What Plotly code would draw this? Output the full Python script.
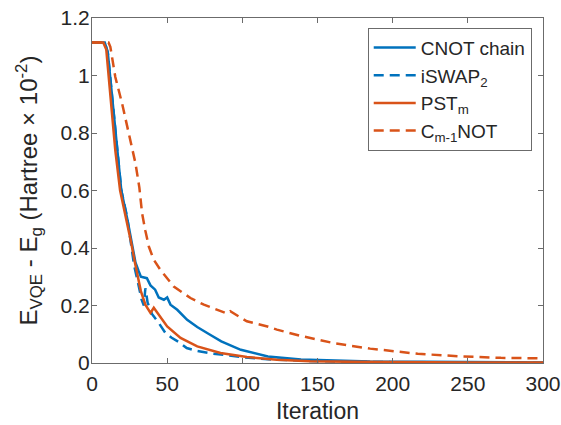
import plotly.graph_objects as go

# CNOT chain (blue solid)
cnot_x = [0, 8.5, 10.5, 12, 15, 16.5, 19.5, 23.5, 26.5, 28.9, 31, 32.5, 36.5, 38.9, 42, 44.4, 47.8, 50, 52.2, 56.7, 63.3, 70, 78, 86, 99, 117, 139, 161, 185, 220, 260, 300]
cnot_y = [1.115, 1.115, 1.08, 1.0, 0.82, 0.75, 0.6, 0.5, 0.42, 0.35, 0.32, 0.3, 0.295, 0.27, 0.255, 0.228, 0.22, 0.228, 0.203, 0.185, 0.15, 0.125, 0.1, 0.075, 0.046, 0.023, 0.012, 0.008, 0.005, 0.004, 0.003, 0.002]

# iSWAP_2 (blue dashed)
iswap_x = [0, 8.5, 10.5, 12, 15.5, 17.5, 19.5, 23.3, 25.5, 28, 31, 33, 34.5, 35.5, 37, 40, 44.4, 48.9, 53, 58, 63, 70, 80, 90, 100, 120, 150, 200, 300]
iswap_y = [1.115, 1.115, 1.08, 1.0, 0.8, 0.7, 0.6, 0.51, 0.43, 0.34, 0.27, 0.22, 0.2, 0.26, 0.21, 0.17, 0.139, 0.104, 0.088, 0.072, 0.052, 0.042, 0.033, 0.027, 0.02, 0.012, 0.006, 0.003, 0.001]

# PST_m (orange solid)
pst_x = [0, 7.5, 9.5, 11, 14, 15.5, 18.7, 23, 26, 28.5, 30.5, 32.5, 35.5, 38.9, 41.1, 44.4, 50, 58.9, 70, 85.5, 103, 123, 145, 175, 200, 250, 300]
pst_y = [1.115, 1.115, 1.09, 1.0, 0.8, 0.74, 0.6, 0.5, 0.42, 0.35, 0.3, 0.25, 0.203, 0.174, 0.192, 0.168, 0.127, 0.087, 0.058, 0.035, 0.021, 0.011, 0.006, 0.004, 0.003, 0.002, 0.002]

# C_{m-1}NOT (orange dashed)
cnm_x = [0, 11, 12.2, 15.5, 20, 24.4, 28.9, 31.5, 33.3, 35.5, 37.8, 41, 45.5, 54.4, 65.5, 74.4, 85.5, 89.9, 92, 94.4, 103, 116.7, 123, 139, 161, 185, 203, 216.7, 245.5, 272, 300]
cnm_y = [1.115, 1.115, 1.1, 0.995, 0.903, 0.8, 0.695, 0.61, 0.521, 0.46, 0.405, 0.36, 0.324, 0.266, 0.226, 0.203, 0.179, 0.172, 0.18, 0.172, 0.145, 0.127, 0.116, 0.094, 0.069, 0.05, 0.04, 0.032, 0.023, 0.018, 0.016]

x_ticks = [0, 50, 100, 150, 200, 250, 300]
y_ticks = [0, 0.2, 0.4, 0.6, 0.8, 1.0, 1.2]

BLUE = "#0072BD"
ORANGE = "#D95319"
FONT = "Liberation Sans, Arial, sans-serif"
TXT = "#262626"
AX = "#6b6b6b"

fig = go.Figure()
fig.add_trace(go.Scatter(x=cnot_x, y=cnot_y, mode="lines", name="CNOT chain",
                         line=dict(color=BLUE, width=2.5)))
fig.add_trace(go.Scatter(x=iswap_x, y=iswap_y, mode="lines", name="iSWAP<sub>2</sub>",
                         line=dict(color=BLUE, width=2.5, dash="10px,6px")))
fig.add_trace(go.Scatter(x=pst_x, y=pst_y, mode="lines", name="PST<sub>m</sub>",
                         line=dict(color=ORANGE, width=2.5)))
fig.add_trace(go.Scatter(x=cnm_x, y=cnm_y, mode="lines", name="C<sub>m-1</sub>NOT",
                         line=dict(color=ORANGE, width=2.5, dash="10px,6px")))

axis_common = dict(
    showline=True, linecolor=AX, linewidth=1, mirror="ticks",
    ticks="inside", ticklen=5, tickcolor=AX, tickwidth=1,
    showgrid=False, zeroline=False, automargin=False,
    tickfont=dict(family=FONT, size=21, color=TXT),
)

fig.update_layout(
    width=561, height=425,
    paper_bgcolor="white", plot_bgcolor="white",
    margin=dict(l=92, r=18, t=18, b=62),
    font=dict(family=FONT, color=TXT),
    xaxis=dict(range=[0, 300], tickvals=x_ticks, ticklabelstandoff=2,
               title=dict(text="Iteration", font=dict(family=FONT, size=23, color=TXT), standoff=8),
               **axis_common),
    yaxis=dict(range=[0, 1.2], tickvals=y_ticks, ticklabelstandoff=-3,
               title=dict(text="E<sub>VQE</sub> - E<sub>g</sub> (Hartree × 10<sup>-2</sup>)",
                          font=dict(family=FONT, size=24, color=TXT), standoff=16),
               **axis_common),
    legend=dict(x=0.975, y=0.972, xanchor="right", yanchor="top",
                bgcolor="white", bordercolor=AX, borderwidth=1,
                font=dict(family=FONT, size=19, color=TXT),
                itemwidth=42, tracegroupgap=0),
    showlegend=True,
)

fig.write_html("out.html", config={"displayModeBar": False},
               post_script="document.body.style.margin='0';document.body.style.overflow='hidden';")
